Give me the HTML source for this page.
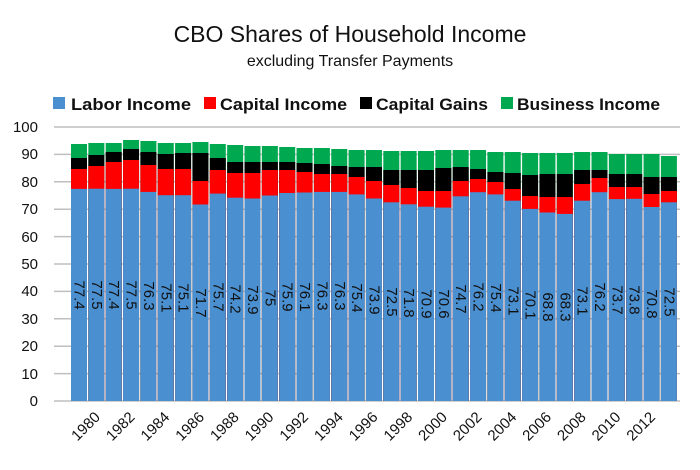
<!DOCTYPE html>
<html><head><meta charset="utf-8"><style>
body{margin:0;background:#fff;}
svg{display:block;font-family:"Liberation Sans",sans-serif;}
</style></head><body>
<svg width="700" height="470" viewBox="0 0 700 470" xmlns="http://www.w3.org/2000/svg">
<rect width="700" height="470" fill="#fff"/>
<text x="350" y="42" text-anchor="middle" font-size="23" fill="#111">CBO Shares of Household Income</text>
<text x="350" y="66" text-anchor="middle" font-size="16" fill="#111">excluding Transfer Payments</text>
<g font-size="17" font-weight="bold" fill="#111">
<rect x="53" y="97" width="12" height="12" fill="#4a8fd0"/><text x="71" y="110" textLength="120" lengthAdjust="spacingAndGlyphs">Labor Income</text>
<rect x="204" y="97" width="12" height="12" fill="#ff0000"/><text x="220" y="110" textLength="127" lengthAdjust="spacingAndGlyphs">Capital Income</text>
<rect x="360" y="97" width="12" height="12" fill="#000"/><text x="376" y="110" textLength="112" lengthAdjust="spacingAndGlyphs">Capital Gains</text>
<rect x="501" y="97" width="12" height="12" fill="#00a84f"/><text x="517" y="110" textLength="143" lengthAdjust="spacingAndGlyphs">Business Income</text>
</g>
<g stroke="#bfbfbf" stroke-width="1.5">
<line x1="54" x2="680" y1="127" y2="127"/><line x1="54" x2="680" y1="154.4" y2="154.4"/><line x1="54" x2="680" y1="181.8" y2="181.8"/><line x1="54" x2="680" y1="209.2" y2="209.2"/><line x1="54" x2="680" y1="236.6" y2="236.6"/><line x1="54" x2="680" y1="264" y2="264"/><line x1="54" x2="680" y1="291.4" y2="291.4"/><line x1="54" x2="680" y1="318.8" y2="318.8"/><line x1="54" x2="680" y1="346.2" y2="346.2"/><line x1="54" x2="680" y1="373.6" y2="373.6"/><line x1="54" x2="680" y1="401" y2="401"/>
</g>
<g font-size="15" fill="#111" text-anchor="end">
<text x="38" y="132">100</text><text x="38" y="159">90</text><text x="38" y="187">80</text><text x="38" y="214">70</text><text x="38" y="242">60</text><text x="38" y="269">50</text><text x="38" y="296">40</text><text x="38" y="324">30</text><text x="38" y="351">20</text><text x="38" y="379">10</text><text x="38" y="406">0</text>
</g>
<g>
<g fill="#00a84f">
<rect x="71" y="144" width="16" height="257"/><rect x="88.35" y="143" width="16" height="258"/><rect x="105.7" y="143" width="16" height="258"/><rect x="123.05" y="140" width="16" height="261"/><rect x="140.4" y="141" width="16" height="260"/><rect x="157.75" y="143" width="16" height="258"/><rect x="175.1" y="143" width="16" height="258"/><rect x="192.45" y="142" width="16" height="259"/><rect x="209.8" y="144" width="16" height="257"/><rect x="227.15" y="145" width="16" height="256"/><rect x="244.5" y="146" width="16" height="255"/><rect x="261.85" y="146" width="16" height="255"/><rect x="279.2" y="147" width="16" height="254"/><rect x="296.55" y="148" width="16" height="253"/><rect x="313.9" y="148" width="16" height="253"/><rect x="331.25" y="149" width="16" height="252"/><rect x="348.6" y="150" width="16" height="251"/><rect x="365.95" y="150" width="16" height="251"/><rect x="383.3" y="151" width="16" height="250"/><rect x="400.65" y="151" width="16" height="250"/><rect x="418" y="151" width="16" height="250"/><rect x="435.35" y="150" width="16" height="251"/><rect x="452.7" y="150" width="16" height="251"/><rect x="470.05" y="150" width="16" height="251"/><rect x="487.4" y="152" width="16" height="249"/><rect x="504.75" y="152" width="16" height="249"/><rect x="522.1" y="153" width="16" height="248"/><rect x="539.45" y="153" width="16" height="248"/><rect x="556.8" y="153" width="16" height="248"/><rect x="574.15" y="152" width="16" height="249"/><rect x="591.5" y="152" width="16" height="249"/><rect x="608.85" y="154" width="16" height="247"/><rect x="626.2" y="154" width="16" height="247"/><rect x="643.55" y="154" width="16" height="247"/><rect x="660.9" y="156" width="16" height="245"/>
</g>
<g fill="#000">
<rect x="71" y="158" width="16" height="243"/><rect x="88.35" y="155" width="16" height="246"/><rect x="105.7" y="152" width="16" height="249"/><rect x="123.05" y="149" width="16" height="252"/><rect x="140.4" y="152" width="16" height="249"/><rect x="157.75" y="154" width="16" height="247"/><rect x="175.1" y="153" width="16" height="248"/><rect x="192.45" y="153" width="16" height="248"/><rect x="209.8" y="158" width="16" height="243"/><rect x="227.15" y="162" width="16" height="239"/><rect x="244.5" y="162" width="16" height="239"/><rect x="261.85" y="162" width="16" height="239"/><rect x="279.2" y="162" width="16" height="239"/><rect x="296.55" y="163" width="16" height="238"/><rect x="313.9" y="164" width="16" height="237"/><rect x="331.25" y="166" width="16" height="235"/><rect x="348.6" y="167" width="16" height="234"/><rect x="365.95" y="167" width="16" height="234"/><rect x="383.3" y="170" width="16" height="231"/><rect x="400.65" y="170" width="16" height="231"/><rect x="418" y="170" width="16" height="231"/><rect x="435.35" y="168" width="16" height="233"/><rect x="452.7" y="167" width="16" height="234"/><rect x="470.05" y="169" width="16" height="232"/><rect x="487.4" y="172" width="16" height="229"/><rect x="504.75" y="173" width="16" height="228"/><rect x="522.1" y="175" width="16" height="226"/><rect x="539.45" y="174" width="16" height="227"/><rect x="556.8" y="174" width="16" height="227"/><rect x="574.15" y="170" width="16" height="231"/><rect x="591.5" y="170" width="16" height="231"/><rect x="608.85" y="174" width="16" height="227"/><rect x="626.2" y="174" width="16" height="227"/><rect x="643.55" y="177" width="16" height="224"/><rect x="660.9" y="177" width="16" height="224"/>
</g>
<g fill="#ff0000">
<rect x="71" y="169" width="16" height="232"/><rect x="88.35" y="166" width="16" height="235"/><rect x="105.7" y="162" width="16" height="239"/><rect x="123.05" y="160" width="16" height="241"/><rect x="140.4" y="165" width="16" height="236"/><rect x="157.75" y="169" width="16" height="232"/><rect x="175.1" y="169" width="16" height="232"/><rect x="192.45" y="181" width="16" height="220"/><rect x="209.8" y="170" width="16" height="231"/><rect x="227.15" y="173" width="16" height="228"/><rect x="244.5" y="173" width="16" height="228"/><rect x="261.85" y="170" width="16" height="231"/><rect x="279.2" y="170" width="16" height="231"/><rect x="296.55" y="172" width="16" height="229"/><rect x="313.9" y="174" width="16" height="227"/><rect x="331.25" y="174" width="16" height="227"/><rect x="348.6" y="177" width="16" height="224"/><rect x="365.95" y="181" width="16" height="220"/><rect x="383.3" y="185" width="16" height="216"/><rect x="400.65" y="188" width="16" height="213"/><rect x="418" y="191" width="16" height="210"/><rect x="435.35" y="191" width="16" height="210"/><rect x="452.7" y="181" width="16" height="220"/><rect x="470.05" y="179" width="16" height="222"/><rect x="487.4" y="182" width="16" height="219"/><rect x="504.75" y="189" width="16" height="212"/><rect x="522.1" y="196" width="16" height="205"/><rect x="539.45" y="197" width="16" height="204"/><rect x="556.8" y="197" width="16" height="204"/><rect x="574.15" y="184" width="16" height="217"/><rect x="591.5" y="178" width="16" height="223"/><rect x="608.85" y="187" width="16" height="214"/><rect x="626.2" y="187" width="16" height="214"/><rect x="643.55" y="194" width="16" height="207"/><rect x="660.9" y="191" width="16" height="210"/>
</g>
<g fill="#4a8fd0">
<rect x="71" y="188.9" width="16" height="212.1"/><rect x="88.35" y="188.7" width="16" height="212.3"/><rect x="105.7" y="188.9" width="16" height="212.1"/><rect x="123.05" y="188.7" width="16" height="212.3"/><rect x="140.4" y="191.9" width="16" height="209.1"/><rect x="157.75" y="195.2" width="16" height="205.8"/><rect x="175.1" y="195.2" width="16" height="205.8"/><rect x="192.45" y="204.5" width="16" height="196.5"/><rect x="209.8" y="193.6" width="16" height="207.4"/><rect x="227.15" y="197.7" width="16" height="203.3"/><rect x="244.5" y="198.5" width="16" height="202.5"/><rect x="261.85" y="195.5" width="16" height="205.5"/><rect x="279.2" y="193" width="16" height="208"/><rect x="296.55" y="192.5" width="16" height="208.5"/><rect x="313.9" y="191.9" width="16" height="209.1"/><rect x="331.25" y="191.9" width="16" height="209.1"/><rect x="348.6" y="194.4" width="16" height="206.6"/><rect x="365.95" y="198.5" width="16" height="202.5"/><rect x="383.3" y="202.3" width="16" height="198.7"/><rect x="400.65" y="204.3" width="16" height="196.7"/><rect x="418" y="206.7" width="16" height="194.3"/><rect x="435.35" y="207.6" width="16" height="193.4"/><rect x="452.7" y="196.3" width="16" height="204.7"/><rect x="470.05" y="192.2" width="16" height="208.8"/><rect x="487.4" y="194.4" width="16" height="206.6"/><rect x="504.75" y="200.7" width="16" height="200.3"/><rect x="522.1" y="208.9" width="16" height="192.1"/><rect x="539.45" y="212.5" width="16" height="188.5"/><rect x="556.8" y="213.9" width="16" height="187.1"/><rect x="574.15" y="200.7" width="16" height="200.3"/><rect x="591.5" y="192.2" width="16" height="208.8"/><rect x="608.85" y="199.1" width="16" height="201.9"/><rect x="626.2" y="198.8" width="16" height="202.2"/><rect x="643.55" y="207" width="16" height="194"/><rect x="660.9" y="202.3" width="16" height="198.7"/>
</g>
</g>
<g font-size="15" fill="#111" text-anchor="middle" dominant-baseline="central">
<text transform="translate(79,295) rotate(90)">77.4</text>
<text transform="translate(96.35,295) rotate(90)">77.5</text>
<text transform="translate(113.7,295) rotate(90)">77.4</text>
<text transform="translate(131.05,295) rotate(90)">77.5</text>
<text transform="translate(148.4,296) rotate(90)">76.3</text>
<text transform="translate(165.75,298) rotate(90)">75.1</text>
<text transform="translate(183.1,298) rotate(90)">75.1</text>
<text transform="translate(200.45,303) rotate(90)">71.7</text>
<text transform="translate(217.8,297) rotate(90)">75.7</text>
<text transform="translate(235.15,299) rotate(90)">74.2</text>
<text transform="translate(252.5,300) rotate(90)">73.9</text>
<text transform="translate(269.85,298) rotate(90)">75</text>
<text transform="translate(287.2,297) rotate(90)">75.9</text>
<text transform="translate(304.55,297) rotate(90)">76.1</text>
<text transform="translate(321.9,296) rotate(90)">76.3</text>
<text transform="translate(339.25,296) rotate(90)">76.3</text>
<text transform="translate(356.6,298) rotate(90)">75.4</text>
<text transform="translate(373.95,300) rotate(90)">73.9</text>
<text transform="translate(391.3,302) rotate(90)">72.5</text>
<text transform="translate(408.65,303) rotate(90)">71.8</text>
<text transform="translate(426,304) rotate(90)">70.9</text>
<text transform="translate(443.35,304) rotate(90)">70.6</text>
<text transform="translate(460.7,299) rotate(90)">74.7</text>
<text transform="translate(478.05,297) rotate(90)">76.2</text>
<text transform="translate(495.4,298) rotate(90)">75.4</text>
<text transform="translate(512.75,301) rotate(90)">73.1</text>
<text transform="translate(530.1,305) rotate(90)">70.1</text>
<text transform="translate(547.45,307) rotate(90)">68.8</text>
<text transform="translate(564.8,307) rotate(90)">68.3</text>
<text transform="translate(582.15,301) rotate(90)">73.1</text>
<text transform="translate(599.5,297) rotate(90)">76.2</text>
<text transform="translate(616.85,300) rotate(90)">73.7</text>
<text transform="translate(634.2,300) rotate(90)">73.8</text>
<text transform="translate(651.55,304) rotate(90)">70.8</text>
<text transform="translate(668.9,302) rotate(90)">72.5</text>
</g>
<g font-size="15" fill="#111" text-anchor="end">
<text transform="translate(101,418) rotate(-45)">1980</text>
<text transform="translate(135.7,418) rotate(-45)">1982</text>
<text transform="translate(170.4,418) rotate(-45)">1984</text>
<text transform="translate(205.1,418) rotate(-45)">1986</text>
<text transform="translate(239.8,418) rotate(-45)">1988</text>
<text transform="translate(274.5,418) rotate(-45)">1990</text>
<text transform="translate(309.2,418) rotate(-45)">1992</text>
<text transform="translate(343.9,418) rotate(-45)">1994</text>
<text transform="translate(378.6,418) rotate(-45)">1996</text>
<text transform="translate(413.3,418) rotate(-45)">1998</text>
<text transform="translate(448,418) rotate(-45)">2000</text>
<text transform="translate(482.7,418) rotate(-45)">2002</text>
<text transform="translate(517.4,418) rotate(-45)">2004</text>
<text transform="translate(552.1,418) rotate(-45)">2006</text>
<text transform="translate(586.8,418) rotate(-45)">2008</text>
<text transform="translate(621.5,418) rotate(-45)">2010</text>
<text transform="translate(656.2,418) rotate(-45)">2012</text>
</g>
</svg>
</body></html>
